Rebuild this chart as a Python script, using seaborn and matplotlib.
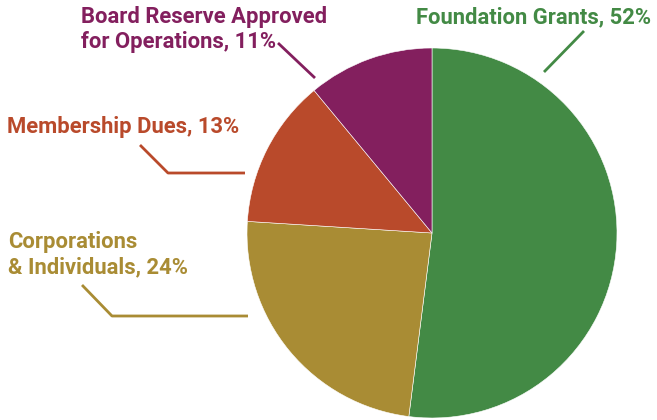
import matplotlib.pyplot as plt
import seaborn as sns

sns.set_theme(style="white")
plt.rcParams['font.family'] = ['Roboto', 'DejaVu Sans']

# Revenue sources (clockwise from top)
labels = ['Foundation Grants', 'Corporations\n& Individuals', 'Membership Dues',
          'Board Reserve Approved\nfor Operations']
shares = [52, 24, 13, 11]
colors = ['#438a45', '#a98c34', '#b94a2b', '#831f5e']

H = 420
fig = plt.figure(figsize=(6.57, 4.20), dpi=100)
ax = fig.add_axes([0, 0, 1, 1])
ax.set_xlim(0, 657)
ax.set_ylim(0, H)
ax.set_aspect('equal')
ax.axis('off')

ax.pie(shares, colors=colors, startangle=90, counterclock=False,
       center=(432, H - 233), radius=185,
       wedgeprops=dict(edgecolor='white', linewidth=0.4))
ax.set_xlim(0, 657)
ax.set_ylim(0, H)

# label anchor (left x, first baseline y in pixels), leader line points
anchors = [(416, 23), (8, 248), (7, 133), (81, 23)]
leaders = [
    [(544, 72), (584, 31)],
    [(82, 285), (112, 316), (248, 316)],
    [(140, 145), (168, 173), (245, 173)],
    [(315, 78), (278, 43)],
]
line_gap = 25

for lab, s, (x, y), pts, c in zip(labels, shares, anchors, leaders, colors):
    lines = f'{lab}, {s}%'.split('\n')
    for i, ln in enumerate(lines):
        ax.text(x, H - (y + i * line_gap), ln, color=c, fontsize=15.8,
                fontweight='bold', ha='left', va='baseline')
    xs = [p[0] for p in pts]
    ys = [H - p[1] for p in pts]
    ax.plot(xs, ys, color=c, lw=2, solid_capstyle='butt')

fig.savefig('out.png', dpi=100)
